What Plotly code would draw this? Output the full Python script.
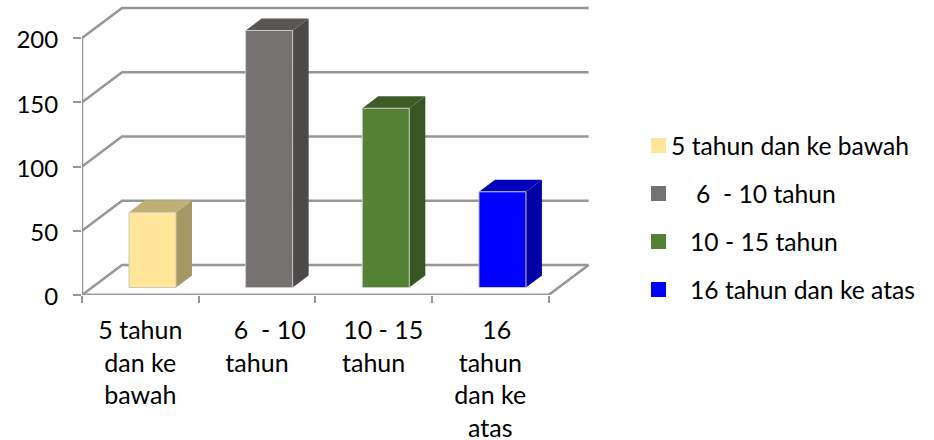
import plotly.graph_objects as go

NB = "\u00a0"
categories = [
    "5 tahun<br>dan ke<br>bawah",
    NB * 4 + "6" + NB * 2 + "- 10<br>tahun",
    NB * 3 + "10 - 15<br>tahun",
    NB * 2 + "16<br>tahun<br>dan ke<br>atas",
]
legend_names = ["5 tahun dan ke bawah", "6\u00a0\u00a0- 10 tahun", "10 - 15 tahun", "16 tahun dan ke atas"]
values = [58.5, 200, 139.5, 74.5]
y_ticks = [0, 50, 100, 150, 200]
front = ["#FFE699", "#767171", "#548235", "#0000FF"]
side = ["#A69764", "#4D4948", "#375623", "#0000A6"]
top = ["#BFAF73", "#595654", "#3C5E26", "#0000BF"]

W, H = 934, 440
FONT = "Lato"
FSIZE = 25
GRID = "#969696"
PXX, PXY = 116.65, 1.285
X0, X1, Y0, Y1 = 82, 600, 295, 2
DX, DY = 40 / PXX, 30 / PXY
BX, BY = 16 / PXX, 12 / PXY
BAR_L, BAR_W, BASE = 47 / PXX, 47 / PXX, 7.5 / PXY
LEG_SWATCH_X, LEG_SWATCH = 651, 15
LEG_Y = [145.5, 193.5, 241.5, 289.5]
LEG_TEXT_X = [670, 695, 689, 689]
N = len(categories)

fig = go.Figure()


def line(xs, ys, width=2.5):
    fig.add_trace(go.Scatter(x=xs, y=ys, mode="lines", line=dict(color=GRID, width=width),
                             showlegend=False, hoverinfo="skip", cliponaxis=False))


def poly(xs, ys, color, edge=None):
    fig.add_trace(go.Scatter(x=xs, y=ys, mode="lines", fill="toself", fillcolor=color,
                             line=dict(color=edge or color, width=1 if edge else 0),
                             showlegend=False, hoverinfo="skip", cliponaxis=False))


for v in y_ticks:
    line([0, DX, N + DX], [v, v + DY, v + DY])
line([0, N, N + DX], [0, 0, DY])
line([0, 0], [0, max(y_ticks)])
line([0, N], [0, 0])

for i, v in enumerate(values):
    l = i + BAR_L
    r = l + BAR_W
    t = BASE + v
    poly([r, r + BX, r + BX, r, r], [BASE, BASE + BY, t + BY, t, BASE], side[i])
    poly([l, l + BX, r + BX, r, l], [t, t + BY, t + BY, t, t], top[i])
    poly([l, r, r, l, l], [BASE, BASE, t, t, BASE], front[i], edge="#C8C8C8")

for i, name in enumerate(legend_names):
    cy = LEG_Y[i]
    fig.add_shape(type="rect", xref="paper", yref="paper",
                  x0=LEG_SWATCH_X / W, x1=(LEG_SWATCH_X + LEG_SWATCH) / W,
                  y0=1 - (cy + LEG_SWATCH / 2) / H, y1=1 - (cy - LEG_SWATCH / 2) / H,
                  fillcolor=front[i], line=dict(width=0))
    fig.add_annotation(text=name, xref="paper", yref="paper", x=LEG_TEXT_X[i] / W, y=1 - cy / H,
                       xanchor="left", yanchor="middle", showarrow=False, borderpad=0,
                       font=dict(family=FONT, size=FSIZE - 0.3, color="#000000"))

fig.update_layout(
    width=W, height=H, margin=dict(l=0, r=0, t=0, b=0),
    paper_bgcolor="white", plot_bgcolor="white",
    font=dict(family=FONT, size=FSIZE, color="#000000"),
    xaxis=dict(domain=[X0 / W, X1 / W], range=[0, (X1 - X0) / PXX], showgrid=False, zeroline=False,
               showline=False, tickmode="array", tickvals=[i + 0.5 for i in range(N)], ticktext=categories,
               ticks="", tickangle=0, automargin=False, ticklabelstandoff=18,
               minor=dict(ticks="outside", tick0=0, dtick=1, ticklen=7, tickwidth=1.5, tickcolor=GRID, showgrid=False)),
    yaxis=dict(domain=[1 - Y0 / H, 1 - Y1 / H], range=[0, (Y0 - Y1) / PXY], showgrid=False, zeroline=False,
               showline=False, tickmode="array", tickvals=y_ticks, ticks="outside", ticklen=8, tickwidth=2,
               tickcolor=GRID, automargin=False, ticklabelstandoff=10, ticklabelshift=2,
               tickfont=dict(family=FONT, size=24)),
    showlegend=False,
)
fig.write_html("out.html", config={"displayModeBar": False}, post_script="document.body.style.margin='0';")
